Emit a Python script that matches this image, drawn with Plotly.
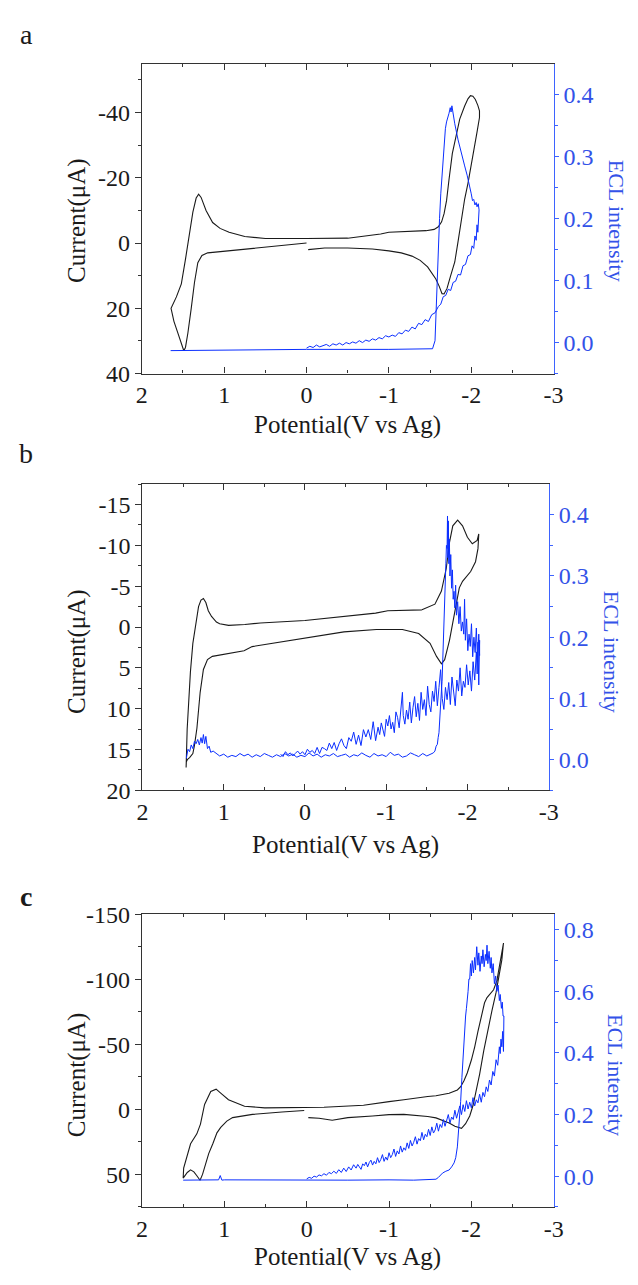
import plotly.graph_objects as go

W, H = 638, 1285

# ---------------- data ----------------
x_ticks = [2, 1, 0, -1, -2, -3]
x_ticktext = ["2", "1", "0", "-1", "-2", "-3"]
x_minor = [1.5, 0.5, -0.5, -1.5, -2.5]

# panel a
a_left_ticks = [-40, -20, 0, 20, 40]
a_left_text = ["-40", "-20", "0", "20", "40"]
a_left_minor = [-50, -30, -10, 10, 30]
a_right_ticks = [0.0, 0.1, 0.2, 0.3, 0.4]
a_right_text = ["0.0", "0.1", "0.2", "0.3", "0.4"]
a_right_minor = [-0.05, 0.05, 0.15, 0.25, 0.35]

a_cv = [(-0.02, 2.0), (-0.22, 1.5), (-0.5, 1.5), (-0.8, 1.8), (-1.0, 2.4), (-1.15, 3.0), (-1.28, 4.0),
        (-1.38, 5.3), (-1.47, 7.3), (-1.53, 9.3), (-1.57, 11.0), (-1.61, 13.2), (-1.645, 15.5), (-1.67, 15.6),
        (-1.706, 13.9), (-1.75, 10.0), (-1.80, 5.8), (-1.84, -0.5), (-1.88, -7.3), (-1.92, -13.5), (-1.96, -18.3),
        (-2.0, -24.5), (-2.04, -29.4), (-2.07, -34.0), (-2.10, -38.5), (-2.10, -40.5), (-2.08, -42.2),
        (-2.05, -44.0), (-2.02, -45.0), (-1.99, -45.2), (-1.96, -44.2), (-1.92, -42.0), (-1.86, -38.0),
        (-1.81, -32.5), (-1.77, -27.4), (-1.73, -19.5), (-1.70, -13.0), (-1.67, -9.0), (-1.64, -6.5),
        (-1.60, -5.0), (-1.55, -4.2), (-1.45, -3.8), (-1.2, -3.5), (-1.0, -3.3), (-0.9, -2.8), (-0.5, -1.5),
        (0.0, -1.4), (0.5, -1.4), (0.75, -2.0), (0.94, -3.3), (1.05, -4.5), (1.14, -6.3), (1.22, -10.0),
        (1.28, -14.0), (1.31, -15.0), (1.34, -13.8), (1.38, -9.5), (1.43, -2.2), (1.47, 5.0), (1.52, 12.5),
        (1.58, 16.5), (1.645, 20.0), (1.61, 24.0), (1.57, 27.0), (1.52, 31.0), (1.49, 33.0), (1.47, 32.0),
        (1.44, 27.5), (1.40, 20.0), (1.36, 12.0), (1.32, 6.0), (1.27, 3.8), (1.2, 3.0), (1.0, 2.5),
        (0.5, 1.3), (0.0, 0.0)]

a_ecl = [(0.00, -0.009), (-0.04, -0.006), (-0.08, -0.008), (-0.12, -0.004), (-0.16, -0.007), (-0.20, -0.005),
         (-0.24, -0.003), (-0.28, -0.006), (-0.32, -0.002), (-0.36, -0.004), (-0.40, -0.001), (-0.44, -0.004),
         (-0.48, 0.000), (-0.52, -0.002), (-0.56, 0.001), (-0.60, -0.001), (-0.64, 0.003), (-0.68, 0.000),
         (-0.72, 0.004), (-0.76, 0.002), (-0.80, 0.006), (-0.84, 0.004), (-0.88, 0.008), (-0.92, 0.006),
         (-0.96, 0.011), (-1.00, 0.009), (-1.04, 0.012), (-1.08, 0.010), (-1.12, 0.016), (-1.16, 0.014),
         (-1.20, 0.020), (-1.24, 0.018), (-1.28, 0.025), (-1.32, 0.022), (-1.36, 0.031), (-1.40, 0.029),
         (-1.44, 0.037), (-1.48, 0.034), (-1.52, 0.045), (-1.56, 0.048), (-1.60, 0.058), (-1.63, 0.062),
         (-1.66, 0.074), (-1.69, 0.076), (-1.72, 0.086), (-1.75, 0.084), (-1.78, 0.097), (-1.81, 0.099),
         (-1.84, 0.110), (-1.87, 0.109), (-1.90, 0.124), (-1.93, 0.126), (-1.96, 0.140), (-1.99, 0.142),
         (-2.01, 0.156), (-2.03, 0.152), (-2.045, 0.172), (-2.06, 0.165), (-2.07, 0.190), (-2.08, 0.178),
         (-2.09, 0.205), (-2.095, 0.214), (-2.085, 0.224), (-2.07, 0.219), (-2.06, 0.226), (-2.045, 0.222),
         (-2.03, 0.231), (-2.015, 0.229), (-2.0, 0.240), (-1.98, 0.253), (-1.95, 0.270), (-1.92, 0.285),
         (-1.88, 0.306), (-1.84, 0.327), (-1.80, 0.353), (-1.785, 0.369), (-1.775, 0.376), (-1.765, 0.382),
         (-1.755, 0.372), (-1.745, 0.379), (-1.73, 0.370), (-1.70, 0.356), (-1.686, 0.345), (-1.665, 0.31),
         (-1.647, 0.28), (-1.63, 0.24), (-1.615, 0.20), (-1.60, 0.14), (-1.587, 0.079), (-1.57, 0.02),
         (-1.56, 0.003), (-1.53, -0.010), (-1.0, -0.011), (0.0, -0.011), (1.0, -0.012), (1.65, -0.013)]

# panel b
b_left_ticks = [-15, -10, -5, 0, 5, 10, 15, 20]
b_left_text = ["-15", "-10", "-5", "0", "5", "10", "15", "20"]
b_left_minor = [-17.5, -12.5, -7.5, -2.5, 2.5, 7.5, 12.5, 17.5]
b_right_ticks = [0.0, 0.1, 0.2, 0.3, 0.4]
b_right_text = ["0.0", "0.1", "0.2", "0.3", "0.4"]
b_right_minor = [-0.05, 0.05, 0.15, 0.25, 0.35]

b_cv = [(-1.44, -2.1), (-1.2, -2.0), (-1.02, -2.0), (-0.87, -1.7), (-0.5, -1.3), (0.0, -0.8), (0.55, -0.5),
        (0.74, -0.3), (0.94, -0.2), (1.05, -0.4), (1.09, -0.6), (1.15, -1.3), (1.19, -2.0), (1.22, -3.0),
        (1.25, -3.5), (1.28, -3.3), (1.31, -2.5), (1.34, -0.5), (1.38, 2.0), (1.41, 5.5), (1.43, 8.4),
        (1.45, 12.5), (1.463, 17.2), (1.46, 16.5), (1.445, 16.2), (1.42, 16.0), (1.38, 15.5), (1.36, 14.5),
        (1.33, 12.4), (1.29, 8.0), (1.25, 5.2), (1.2, 4.0), (1.14, 3.6), (0.95, 3.3), (0.84, 3.1),
        (0.75, 2.9), (0.65, 2.4), (0.4, 2.0), (0.0, 1.4), (-0.48, 0.6), (-0.88, 0.3), (-1.2, 0.3),
        (-1.40, 0.8), (-1.54, 2.0), (-1.62, 3.6), (-1.68, 4.5), (-1.72, 4.0), (-1.78, 1.6), (-1.84, -1.6),
        (-1.90, -4.8), (-1.94, -5.6), (-2.04, -6.8), (-2.10, -8.0), (-2.13, -9.6), (-2.14, -11.4),
        (-2.12, -10.6), (-2.06, -10.2), (-2.0, -11.0), (-1.94, -12.4), (-1.88, -13.1), (-1.82, -12.4),
        (-1.78, -10.4), (-1.74, -7.2), (-1.68, -4.4), (-1.60, -2.8), (-1.44, -2.1)]

b_ecl = [(0.30, 0.009), (0.27, 0.005), (0.24, 0.013), (0.21, 0.008), (0.18, 0.011), (0.15, 0.006),
         (0.12, 0.010), (0.09, 0.014), (0.06, 0.009), (0.03, 0.013), (0.00, 0.008), (-0.03, 0.017),
         (-0.06, 0.012), (-0.09, 0.015), (-0.12, 0.010), (-0.15, 0.020), (-0.18, 0.010), (-0.21, 0.020),
         (-0.24, 0.018), (-0.27, 0.015), (-0.30, 0.027), (-0.33, 0.018), (-0.36, 0.028), (-0.39, 0.015),
         (-0.42, 0.026), (-0.45, 0.034), (-0.48, 0.023), (-0.51, 0.018), (-0.54, 0.036), (-0.57, 0.030),
         (-0.60, 0.045), (-0.63, 0.025), (-0.66, 0.040), (-0.69, 0.023), (-0.72, 0.049), (-0.75, 0.037),
         (-0.78, 0.049), (-0.81, 0.033), (-0.84, 0.062), (-0.87, 0.031), (-0.90, 0.053), (-0.92, 0.041),
         (-0.94, 0.060), (-0.96, 0.048), (-0.98, 0.038), (-1.00, 0.066), (-1.02, 0.055), (-1.04, 0.072),
         (-1.06, 0.050), (-1.08, 0.061), (-1.10, 0.044), (-1.12, 0.078), (-1.14, 0.069), (-1.16, 0.052),
         (-1.18, 0.088), (-1.20, 0.110), (-1.21, 0.072), (-1.23, 0.058), (-1.25, 0.081), (-1.27, 0.066),
         (-1.29, 0.094), (-1.31, 0.060), (-1.33, 0.085), (-1.35, 0.103), (-1.37, 0.070), (-1.39, 0.092),
         (-1.41, 0.064), (-1.43, 0.110), (-1.45, 0.082), (-1.47, 0.098), (-1.49, 0.072), (-1.51, 0.120),
         (-1.53, 0.090), (-1.55, 0.078), (-1.57, 0.112), (-1.59, 0.095), (-1.61, 0.128), (-1.63, 0.088),
         (-1.65, 0.118), (-1.67, 0.147), (-1.69, 0.100), (-1.71, 0.082), (-1.73, 0.118), (-1.75, 0.098),
         (-1.77, 0.126), (-1.79, 0.090), (-1.81, 0.135), (-1.83, 0.105), (-1.85, 0.088), (-1.87, 0.130),
         (-1.89, 0.112), (-1.91, 0.150), (-1.93, 0.104), (-1.95, 0.128), (-1.97, 0.118), (-1.99, 0.155),
         (-2.01, 0.122), (-2.03, 0.145), (-2.05, 0.112), (-2.07, 0.160), (-2.09, 0.130), (-2.11, 0.176),
         (-2.12, 0.140), (-2.13, 0.192), (-2.14, 0.122), (-2.15, 0.195),
         (-2.15, 0.170), (-2.14, 0.205), (-2.125, 0.160), (-2.11, 0.215), (-2.095, 0.175), (-2.08, 0.200),
         (-2.065, 0.168), (-2.05, 0.222), (-2.035, 0.185), (-2.02, 0.205), (-2.005, 0.178), (-1.99, 0.230),
         (-1.975, 0.195), (-1.965, 0.262), (-1.955, 0.205), (-1.94, 0.225), (-1.925, 0.210), (-1.91, 0.250),
         (-1.895, 0.222), (-1.88, 0.258), (-1.865, 0.236), (-1.855, 0.285), (-1.845, 0.248), (-1.835, 0.275),
         (-1.825, 0.262), (-1.815, 0.310), (-1.805, 0.280), (-1.795, 0.335), (-1.785, 0.300), (-1.778, 0.360),
         (-1.772, 0.320), (-1.765, 0.390), (-1.76, 0.330), (-1.755, 0.398), (-1.75, 0.345), (-1.746, 0.395),
         (-1.742, 0.350), (-1.735, 0.320), (-1.728, 0.285), (-1.72, 0.262), (-1.714, 0.225), (-1.708, 0.200),
         (-1.70, 0.170), (-1.694, 0.150), (-1.688, 0.128), (-1.68, 0.112), (-1.672, 0.090), (-1.665, 0.072),
         (-1.658, 0.058), (-1.65, 0.044), (-1.64, 0.036), (-1.63, 0.025), (-1.615, 0.022), (-1.60, 0.014),
         (-1.58, 0.011), (-1.55, 0.009), (-1.50, 0.006), (-1.45, 0.010), (-1.40, 0.005), (-1.35, 0.008),
         (-1.30, 0.011), (-1.25, 0.006), (-1.20, 0.004), (-1.15, 0.009), (-1.10, 0.007), (-1.05, 0.012),
         (-1.00, 0.005), (-0.95, 0.008), (-0.90, 0.006), (-0.85, 0.010), (-0.80, 0.004), (-0.75, 0.007),
         (-0.70, 0.011), (-0.65, 0.006), (-0.60, 0.008), (-0.55, 0.004), (-0.50, 0.009), (-0.45, 0.007),
         (-0.40, 0.005), (-0.35, 0.010), (-0.30, 0.006), (-0.25, 0.008), (-0.20, 0.004), (-0.15, 0.009),
         (-0.10, 0.006), (-0.05, 0.011), (0.00, 0.005), (0.05, 0.007), (0.10, 0.004), (0.15, 0.009),
         (0.20, 0.006), (0.25, 0.010), (0.30, 0.005), (0.35, 0.008), (0.40, 0.004), (0.45, 0.007),
         (0.50, 0.010), (0.55, 0.005), (0.60, 0.008), (0.65, 0.004), (0.70, 0.009), (0.75, 0.006),
         (0.80, 0.010), (0.85, 0.005), (0.90, 0.007), (0.95, 0.004), (1.00, 0.009), (1.05, 0.006),
         (1.10, 0.011), (1.13, 0.014), (1.16, 0.012), (1.18, 0.022), (1.20, 0.018), (1.22, 0.038),
         (1.235, 0.026), (1.25, 0.041), (1.265, 0.027), (1.28, 0.036), (1.30, 0.024), (1.32, 0.033),
         (1.34, 0.026), (1.36, 0.030), (1.38, 0.018), (1.40, 0.024), (1.42, 0.013), (1.44, 0.017),
         (1.455, 0.006), (1.46, 0.002)]

# panel c
c_left_ticks = [-150, -100, -50, 0, 50]
c_left_text = ["-150", "-100", "-50", "0", "50"]
c_left_minor = [-125, -75, -25, 25, 75]
c_right_ticks = [0.0, 0.2, 0.4, 0.6, 0.8]
c_right_text = ["0.0", "0.2", "0.4", "0.6", "0.8"]
c_right_minor = [-0.1, 0.1, 0.3, 0.5, 0.7]

c_cv = [(-0.02, 6.3), (-0.15, 6.8), (-0.31, 8.3), (-0.5, 6.3), (-0.8, 5.0), (-1.0, 4.0), (-1.18, 3.8),
        (-1.35, 4.5), (-1.47, 5.5), (-1.57, 6.5), (-1.66, 8.8), (-1.73, 10.5), (-1.80, 13.0), (-1.88, 14.5),
        (-1.93, 11.0), (-1.98, 5.0), (-2.02, -3.0), (-2.06, -14.0), (-2.10, -27.0), (-2.15, -45.0),
        (-2.20, -62.0), (-2.25, -76.0), (-2.30, -90.0), (-2.34, -103.0), (-2.37, -115.0), (-2.39, -128.0),
        (-2.35, -112.0), (-2.31, -99.0), (-2.27, -92.0), (-2.23, -89.0), (-2.19, -86.0), (-2.16, -82.0),
        (-2.12, -72.0), (-2.08, -60.0), (-2.04, -48.0), (-2.0, -38.0), (-1.95, -28.0), (-1.91, -22.0),
        (-1.87, -17.5), (-1.83, -15.0), (-1.73, -12.5), (-1.57, -10.5), (-1.47, -10.0), (-1.26, -7.8),
        (-1.18, -7.5), (-1.0, -6.0), (-0.69, -3.2), (-0.21, -1.7), (0.51, -1.2), (0.755, -2.5),
        (0.95, -7.5), (1.044, -12.5), (1.10, -15.6), (1.165, -13.8), (1.24, -3.8), (1.29, 11.3),
        (1.334, 18.8), (1.41, 26.4), (1.455, 36.5), (1.494, 45.2), (1.50, 52.8), (1.45, 48.5),
        (1.41, 46.5), (1.37, 48.0), (1.334, 51.0), (1.295, 54.5), (1.265, 50.0), (1.237, 44.0),
        (1.19, 34.0), (1.14, 26.4), (1.09, 18.0), (1.044, 13.8), (0.97, 9.0), (0.90, 6.3),
        (0.658, 3.8), (0.3, 2.0), (0.03, 0.8)]

c_ecl = [(0.00, -0.009), (-0.03, -0.004), (-0.06, -0.007), (-0.09, 0.000), (-0.12, -0.003), (-0.15, 0.004),
         (-0.18, 0.001), (-0.21, 0.008), (-0.24, 0.003), (-0.27, 0.012), (-0.30, 0.008), (-0.33, 0.016),
         (-0.36, 0.009), (-0.39, 0.021), (-0.42, 0.012), (-0.45, 0.026), (-0.48, 0.015), (-0.51, 0.030),
         (-0.54, 0.020), (-0.57, 0.037), (-0.60, 0.026), (-0.62, 0.038), (-0.64, 0.030), (-0.66, 0.022),
         (-0.68, 0.040), (-0.70, 0.034), (-0.72, 0.046), (-0.74, 0.030), (-0.76, 0.044), (-0.78, 0.052),
         (-0.80, 0.036), (-0.82, 0.048), (-0.84, 0.040), (-0.86, 0.060), (-0.88, 0.044), (-0.90, 0.054),
         (-0.92, 0.070), (-0.94, 0.048), (-0.96, 0.062), (-0.98, 0.052), (-1.00, 0.076), (-1.02, 0.060),
         (-1.04, 0.070), (-1.06, 0.088), (-1.08, 0.064), (-1.10, 0.082), (-1.12, 0.072), (-1.14, 0.098),
         (-1.16, 0.078), (-1.18, 0.092), (-1.20, 0.084), (-1.22, 0.108), (-1.24, 0.090), (-1.26, 0.116),
         (-1.28, 0.098), (-1.30, 0.110), (-1.32, 0.128), (-1.34, 0.104), (-1.36, 0.122), (-1.38, 0.115),
         (-1.40, 0.142), (-1.42, 0.118), (-1.44, 0.136), (-1.46, 0.128), (-1.48, 0.152), (-1.50, 0.132),
         (-1.52, 0.160), (-1.54, 0.140), (-1.56, 0.150), (-1.58, 0.172), (-1.60, 0.146), (-1.62, 0.168),
         (-1.64, 0.158), (-1.66, 0.184), (-1.68, 0.162), (-1.70, 0.178), (-1.72, 0.200), (-1.74, 0.172),
         (-1.76, 0.192), (-1.78, 0.184), (-1.80, 0.214), (-1.82, 0.188), (-1.84, 0.205), (-1.86, 0.228),
         (-1.88, 0.200), (-1.90, 0.232), (-1.92, 0.210), (-1.94, 0.245), (-1.96, 0.218), (-1.98, 0.240),
         (-2.00, 0.222), (-2.02, 0.255), (-2.04, 0.228), (-2.06, 0.248), (-2.08, 0.238), (-2.10, 0.266),
         (-2.12, 0.240), (-2.14, 0.272), (-2.16, 0.258), (-2.18, 0.290), (-2.20, 0.275), (-2.22, 0.312),
         (-2.24, 0.296), (-2.26, 0.340), (-2.28, 0.325), (-2.30, 0.378), (-2.32, 0.360), (-2.34, 0.420),
         (-2.35, 0.398), (-2.36, 0.445), (-2.37, 0.420), (-2.38, 0.470), (-2.39, 0.405), (-2.395, 0.520),
         (-2.385, 0.520), (-2.375, 0.565), (-2.365, 0.545), (-2.35, 0.590), (-2.34, 0.570),
         (-2.325, 0.620), (-2.31, 0.600), (-2.295, 0.650), (-2.28, 0.625), (-2.265, 0.690), (-2.25, 0.660),
         (-2.24, 0.710), (-2.23, 0.675), (-2.215, 0.730), (-2.20, 0.690), (-2.19, 0.750), (-2.18, 0.700),
         (-2.17, 0.720), (-2.155, 0.680), (-2.14, 0.735), (-2.13, 0.690), (-2.12, 0.715), (-2.105, 0.665),
         (-2.09, 0.725), (-2.08, 0.685), (-2.065, 0.745), (-2.05, 0.670), (-2.04, 0.710), (-2.025, 0.660),
         (-2.01, 0.700), (-2.0, 0.650), (-1.99, 0.690), (-1.98, 0.640), (-1.97, 0.640), (-1.96, 0.600),
         (-1.95, 0.580), (-1.94, 0.545), (-1.93, 0.520), (-1.92, 0.480), (-1.91, 0.450), (-1.90, 0.400),
         (-1.885, 0.320), (-1.87, 0.243), (-1.85, 0.160), (-1.83, 0.095), (-1.81, 0.060), (-1.79, 0.043),
         (-1.76, 0.030), (-1.73, 0.020), (-1.69, 0.016), (-1.65, 0.010), (-1.60, -0.004), (-1.57, -0.010),
         (-1.3, -0.013), (-1.0, -0.012), (-0.5, -0.013), (0.0, -0.012), (0.5, -0.013), (1.0, -0.012),
         (1.03, -0.013), (1.05, 0.002), (1.07, -0.012), (1.5, -0.013)]

# ---------------- styling ----------------
FONT = "Liberation Serif"
BLACK = "#1a1a1a"
AXIS_BLACK = "#333333"
BLUE_DATA = "#0a2eff"
BLUE_AXIS = "#3d63ff"
BLUE_TEXT = "#3352e8"
TICK_SIZE = 24


def px(x):
    return x / W


def py(y):
    return 1 - y / H


panels = [
    dict(cv=a_cv, ecl=a_ecl, xd=(139.3, 561.7), yd=(51.7, 368.0), lr=[40, -55], rr=[-0.05, 0.45],
         lt=a_left_ticks, ltx=a_left_text, lm=a_left_minor, rt=a_right_ticks, rtx=a_right_text,
         rm=a_right_minor, label="a", label_xy=(21, 22), ytitle_y=212, xtitle_y=420, bold=False),
    dict(cv=b_cv, ecl=b_ecl, xd=(140.0, 556.6), yd=(480.9, 793.3), lr=[20, -17.5], rr=[-0.05, 0.45],
         lt=b_left_ticks, ltx=b_left_text, lm=b_left_minor, rt=b_right_ticks, rtx=b_right_text,
         rm=b_right_minor, label="b", label_xy=(21, 450), ytitle_y=652, xtitle_y=849, bold=False),
    dict(cv=c_cv, ecl=c_ecl, xd=(139.5, 561.8), yd=(920.0, 1218.6), lr=[75, -150], rr=[-0.1, 0.85],
         lt=c_left_ticks, ltx=c_left_text, lm=c_left_minor, rt=c_right_ticks, rtx=c_right_text,
         rm=c_right_minor, label="c", label_xy=(21, 902), ytitle_y=1084, xtitle_y=1270, bold=True),
]

fig = go.Figure()
layout = dict(width=W, height=H, autosize=False, margin=dict(l=0, r=0, t=0, b=0, pad=0),
              paper_bgcolor="white", plot_bgcolor="white", showlegend=False,
              font=dict(family=FONT, color=BLACK))
annotations = []

for i, p in enumerate(panels):
    n = i + 1
    xa = "xaxis" if n == 1 else f"xaxis{n}"
    xref = "x" if n == 1 else f"x{n}"
    yl_n = 2 * n - 1
    yr_n = 2 * n
    yla = "yaxis" if yl_n == 1 else f"yaxis{yl_n}"
    ylref = "y" if yl_n == 1 else f"y{yl_n}"
    yra = f"yaxis{yr_n}"
    yrref = f"y{yr_n}"

    xdom = [px(p["xd"][0]), px(p["xd"][1])]
    ydom = [py(p["yd"][1]), py(p["yd"][0])]

    layout[xa] = dict(domain=xdom, anchor=ylref, range=[2, -3], tickmode="array", tickvals=x_ticks,
                      ticktext=x_ticktext, ticks="inside", ticklen=6, tickwidth=1.2, tickcolor=AXIS_BLACK,
                      showline=True, linecolor=AXIS_BLACK, linewidth=1.2, mirror="ticks",
                      minor=dict(tickmode="array", tickvals=x_minor, ticks="inside", ticklen=3,
                                 tickcolor=AXIS_BLACK, tickwidth=1.2),
                      showgrid=False, zeroline=False,
                      tickfont=dict(family=FONT, size=TICK_SIZE, color=BLACK))
    layout[yla] = dict(domain=ydom, anchor=xref, range=p["lr"], tickmode="array", tickvals=p["lt"],
                       ticktext=p["ltx"], ticks="outside", ticklen=6, tickwidth=1.2, tickcolor=AXIS_BLACK,
                       showline=True, linecolor=AXIS_BLACK, linewidth=1.2, mirror=False,
                       minor=dict(tickmode="array", tickvals=p["lm"], ticks="outside", ticklen=3,
                                  tickcolor=AXIS_BLACK, tickwidth=1.2),
                       showgrid=False, zeroline=False,
                       tickfont=dict(family=FONT, size=TICK_SIZE, color=BLACK))
    layout[yra] = dict(overlaying=ylref, anchor=xref, side="right", range=p["rr"], tickmode="array",
                       tickvals=p["rt"], ticktext=p["rtx"], ticks="outside", ticklen=4, tickwidth=1.2,
                       tickcolor=BLUE_AXIS, showline=True, linecolor=BLUE_AXIS, linewidth=1.4,
                       minor=dict(tickmode="array", tickvals=p["rm"], ticks="outside", ticklen=3,
                                  tickcolor=BLUE_AXIS, tickwidth=1.2),
                       showgrid=False, zeroline=False,
                       tickfont=dict(family=FONT, size=TICK_SIZE, color=BLUE_TEXT))

    cvx = [v for v, _ in p["cv"]]
    cvy = [c for _, c in p["cv"]]
    ex = [v for v, _ in p["ecl"]]
    ey = [e for _, e in p["ecl"]]
    fig.add_trace(go.Scatter(x=cvx, y=cvy, xaxis=xref, yaxis=ylref, mode="lines",
                             line=dict(color=BLACK, width=1.1), hoverinfo="skip"))
    fig.add_trace(go.Scatter(x=ex, y=ey, xaxis=xref, yaxis=yrref, mode="lines",
                             line=dict(color=BLUE_DATA, width=1.0), hoverinfo="skip"))

    xc = (p["xd"][0] + p["xd"][1]) / 2
    annotations.append(dict(text="Potential(V vs Ag)", x=px(xc), y=py(p["xtitle_y"]), xref="paper",
                            yref="paper", xanchor="center", yanchor="middle", showarrow=False,
                            font=dict(family=FONT, size=25, color=BLACK)))
    annotations.append(dict(text="Current(μA)", x=px(73), y=py(p["ytitle_y"]), xref="paper",
                            yref="paper", xanchor="center", yanchor="middle", showarrow=False,
                            textangle=-90, font=dict(family=FONT, size=25, color=BLACK)))
    annotations.append(dict(text="ECL intensity", x=px(p["xd"][1] + 64), y=py(p["ytitle_y"]),
                            xref="paper", yref="paper", xanchor="center", yanchor="middle",
                            showarrow=False, textangle=90,
                            font=dict(family=FONT, size=22, color=BLUE_TEXT)))
    lab = f"<b>{p['label']}</b>" if p["bold"] else p["label"]
    annotations.append(dict(text=lab, x=px(p["label_xy"][0]), y=py(p["label_xy"][1]), xref="paper",
                            yref="paper", xanchor="center", yanchor="middle", showarrow=False,
                            font=dict(family=FONT, size=28, color=BLACK)))

layout["annotations"] = annotations
fig.update_layout(**layout)
fig.write_html("out.html")
